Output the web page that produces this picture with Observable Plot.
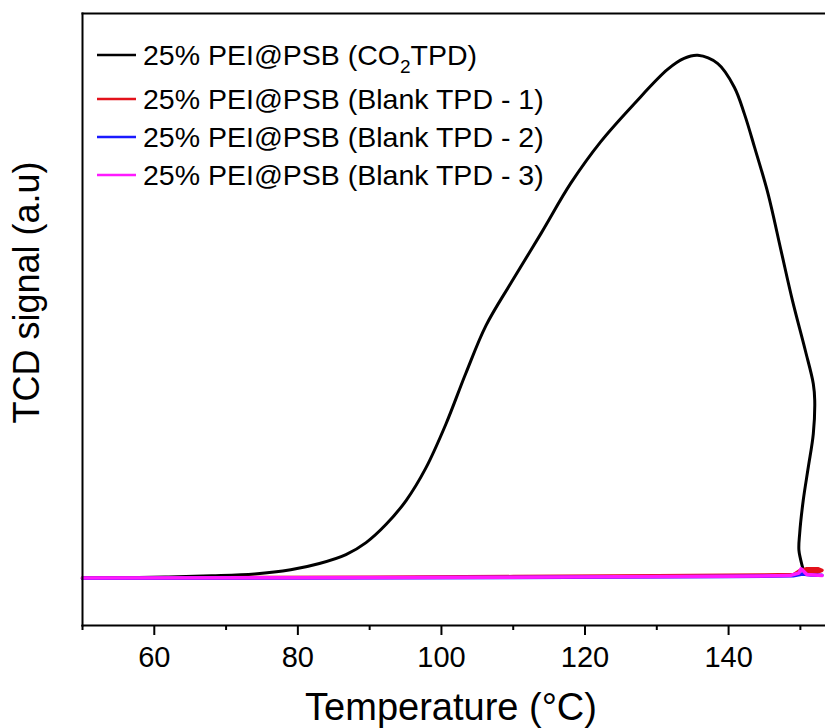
<!DOCTYPE html>
<html><head><meta charset="utf-8">
<script src="https://cdn.jsdelivr.net/npm/d3@7"></script>
<script src="https://cdn.jsdelivr.net/npm/@observablehq/plot@0.6"></script>
<style>
body{margin:0;background:#fff;}
#chart{width:825px;height:728px;}
</style></head><body><div id="chart"></div>
<script>
// Series names & colours
const seriesNames = ["25% PEI@PSB (CO2TPD)", "25% PEI@PSB (Blank TPD - 1)", "25% PEI@PSB (Blank TPD - 2)", "25% PEI@PSB (Blank TPD - 3)"];
const seriesColors = ["#000000", "#e3121b", "#1a1aff", "#ff1aff"];

// CO2 TPD (temperature °C, signal a.u.)
const co2Temp = [50, 56, 62, 68, 74, 79, 83, 86.7, 89.5, 92.3, 95.1, 97.8, 100.6, 103.4, 106.2, 109.7, 113.9, 118.0, 122.2, 126.9, 131.5, 133.8, 135.7, 138.5, 140.8, 142.2, 143.6, 145.5, 147.3, 148.9, 150.7, 151.8, 152.0, 151.8, 151.1, 150.4, 149.9, 149.8, 150.3, 150.5];
const co2Signal = [0, 0.1, 0.25, 0.45, 0.8, 1.6, 2.8, 4.5, 6.8, 10.3, 14.9, 21.0, 29.4, 39.2, 48.3, 56.5, 66.0, 75.5, 83.5, 90.8, 97.3, 99.4, 100, 98.4, 93.9, 88.8, 82.5, 73.5, 62.7, 53.1, 43.5, 37.2, 34.0, 27.6, 21.2, 14.9, 8.5, 5.3, 2.1, 1.0];

// Blank TPD - 1
const blank1Temp = [50, 70, 90, 110, 130, 145, 149.1, 150.0, 150.9, 152.5, 153.0, 152.4, 150.9];
const blank1Signal = [0.05, 0.1, 0.2, 0.3, 0.45, 0.6, 0.7, 1.5, 1.8, 1.8, 1.5, 1.15, 1.3];

// Blank TPD - 2
const blank2Temp = [50, 80, 110, 140, 149, 150.3, 151.5, 153.0];
const blank2Signal = [-0.03, 0.05, 0.15, 0.3, 0.45, 0.8, 0.6, 0.55];

// Blank TPD - 3
const blank3Temp = [50, 80, 110, 140, 148.5, 149.8, 150.1, 150.9, 153.0];
const blank3Signal = [0.02, 0.1, 0.2, 0.35, 0.5, 1.0, 1.8, 0.7, 0.5];

// Axis ticks
const majorTicks = [60, 80, 100, 120, 140];
const minorTicks = [50, 70, 90, 110, 130, 150];
const xLabel = "Temperature (°C)";
const yLabel = "TCD signal (a.u)";

const toRows = (T, S) => T.map((t, i) => ({T: t, S: S[i]}));
const seriesData = [
  toRows(co2Temp, co2Signal),
  toRows(blank1Temp, blank1Signal),
  toRows(blank2Temp, blank2Signal),
  toRows(blank3Temp, blank3Signal)
];
const widths = [3, 3.5, 3.5, 3.5];

const font = "Liberation Sans, Arial, Helvetica, sans-serif";

const chart = Plot.plot({
  width: 825,
  height: 728,
  marginLeft: 82,
  marginRight: 0,
  marginTop: 13,
  marginBottom: 103,
  style: {fontFamily: font, color: "#000", background: "#fff", overflow: "visible"},
  x: {domain: [50, 153.5]},
  y: {domain: [-9.05, 108], axis: null},
  marks: [
    ...seriesData.map((d, i) => Plot.line(d, {
      x: "T", y: "S", stroke: seriesColors[i], strokeWidth: widths[i],
      curve: i === 0 ? "catmull-rom" : "linear", strokeLinejoin: "round"
    })),
    Plot.frame({anchor: "top", strokeWidth: 2}),
    Plot.frame({anchor: "left", strokeWidth: 2}),
    Plot.frame({anchor: "bottom", strokeWidth: 2}),
    Plot.axisX({ticks: minorTicks, tickSize: 5, strokeWidth: 2, tickFormat: () => "", label: null}),
    Plot.axisX({ticks: majorTicks, tickSize: 10, tickPadding: 11, strokeWidth: 2, fontSize: 29, label: null}),
    Plot.text([xLabel], {text: d => d, frameAnchor: "bottom", textAnchor: "middle", lineAnchor: "bottom", dy: 94, dx: -3, fontSize: 38}),
    Plot.text([yLabel], {text: d => d, frameAnchor: "left", textAnchor: "middle", lineAnchor: "middle", rotate: -90, dx: -55, dy: -27, fontSize: 36})
  ]
});

document.getElementById("chart").appendChild(chart);

// Legend
const svg = d3.select(chart);
const legendY = [55, 99, 137, 175];
const lg = svg.append("g").attr("font-family", font).attr("font-size", 28.5).attr("text-anchor", "start");
seriesNames.forEach((name, i) => {
  lg.append("line")
    .attr("x1", 97).attr("x2", 136)
    .attr("y1", legendY[i]).attr("y2", legendY[i])
    .attr("stroke", seriesColors[i]).attr("stroke-width", 2.5);
  const t = lg.append("text").attr("x", 143).attr("y", legendY[i]).attr("dy", "0.35em").attr("fill", "#000").attr("text-anchor", "start");
  if (i === 0) {
    t.append("tspan").text("25% PEI@PSB (CO");
    t.append("tspan").attr("font-size", 19).attr("dy", 8).text("2");
    t.append("tspan").attr("dy", -8).text("TPD)");
  } else {
    t.text(name);
  }
});
</script>
</body></html>
